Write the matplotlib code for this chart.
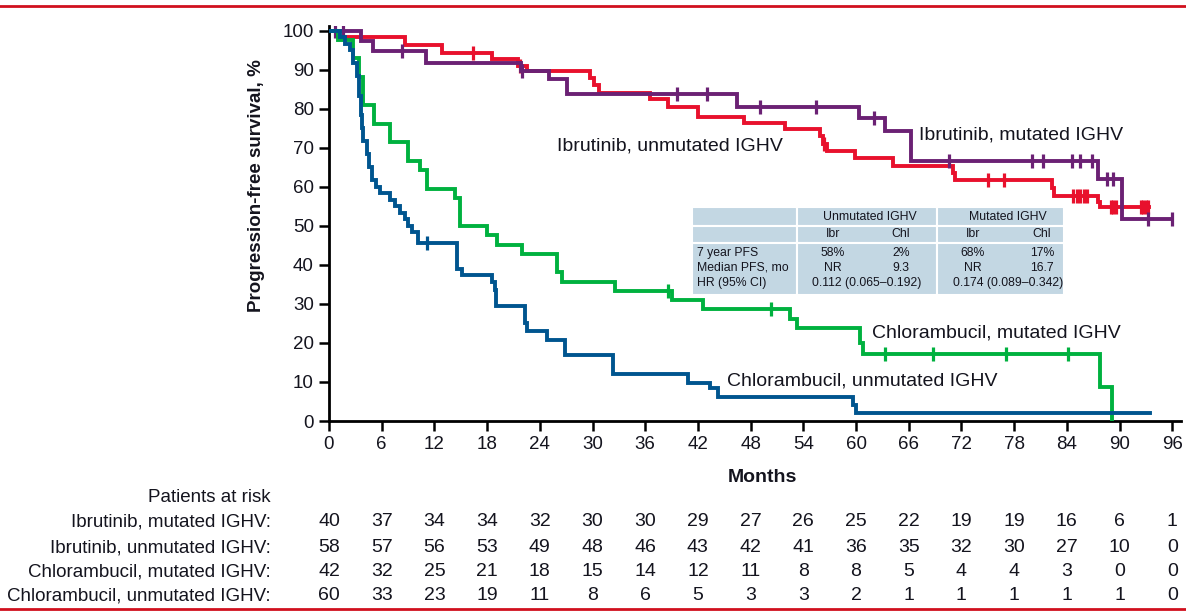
import numpy as np
import matplotlib
matplotlib.use("Agg")
import matplotlib.pyplot as plt
from matplotlib.patches import Rectangle
from matplotlib.lines import Line2D
import matplotlib.transforms as mtransforms

plt.rcParams['font.family'] = ['Liberation Sans', 'DejaVu Sans']
NARROW = ['Liberation Sans Narrow', 'Liberation Sans', 'DejaVu Sans']

# Kaplan-Meier step data (months, % PFS)
ibr_mut_t = [0, 3.7, 5.0, 11.1, 21.9, 25.0, 27.1, 46.5, 60.3, 63.3, 66.3, 87.5, 90.3, 96.0]
ibr_mut_v = [100, 97.4, 94.9, 91.8, 89.7, 87.7, 83.8, 80.5, 77.7, 74.4, 66.7, 62.0, 51.8, 51.8]
ibr_mut_cens = [0.7, 1.6, 8.3, 22.0, 39.6, 43.0, 49.1, 55.4, 62.0, 70.6, 80.0, 81.3,
                84.6, 85.5, 86.9, 88.6, 89.3, 93.2, 96.0]

ibr_unm_t = [0, 1.0, 8.6, 12.9, 18.6, 21.5, 22.5, 29.7, 30.2, 30.7, 36.6, 38.6, 42.0, 47.2,
             51.9, 55.9, 56.2, 56.7, 59.9, 64.2, 71.0, 71.3, 82.3, 82.5, 87.6, 87.8, 93.3]
ibr_unm_v = [100, 98.3, 96.4, 94.4, 92.8, 91.0, 89.7, 88.0, 86.0, 84.1, 82.6, 80.5, 78.0, 76.4,
             74.9, 73.0, 71.0, 69.2, 67.4, 65.4, 63.6, 61.8, 59.7, 57.7, 56.2, 54.9, 54.9]
ibr_unm_cens = [16.4, 21.8, 56.4, 75.0, 76.9, 84.7, 85.2, 85.5, 85.9, 86.3, 89.0, 89.3, 89.6,
                92.4, 92.7, 93.0, 93.2]

chl_mut_t = [0, 1.0, 2.7, 3.4, 3.9, 5.1, 6.9, 9.0, 10.4, 11.2, 14.3, 14.9, 18.0, 19.1, 22.0,
             26.0, 26.5, 32.6, 39.0, 42.6, 52.5, 53.3, 60.5, 60.8, 87.8, 89.2]
chl_mut_v = [100, 97.6, 92.9, 88.1, 81.0, 76.2, 71.4, 66.7, 64.3, 59.5, 57.1, 50.0, 47.6, 45.2, 42.9,
             38.1, 35.7, 33.3, 31.0, 28.6, 26.2, 23.8, 20.0, 17.2, 8.6, 0]
chl_mut_cens = [38.6, 50.3, 63.3, 68.8, 77.1, 84.1]

chl_unm_t = [0, 1.2, 1.8, 2.4, 2.7, 3.2, 3.4, 3.6, 3.8, 3.9, 4.3, 4.6, 4.9, 5.4, 5.8, 6.9, 7.5,
             8.1, 8.6, 9.0, 9.5, 10.1, 14.6, 15.1, 18.6, 18.9, 19.0, 22.3, 22.5, 24.8, 26.9,
             32.3, 40.9, 43.4, 44.3, 59.7, 60.0, 93.5]
chl_unm_v = [100, 98.3, 96.7, 95.0, 91.7, 88.3, 83.3, 78.3, 75.0, 71.7, 68.3, 65.0, 61.7, 60.0, 58.3,
             56.7, 55.0, 53.3, 51.7, 50.0, 48.3, 45.6, 39.0, 37.3, 35.5, 33.5, 29.5, 25.0, 23.0,
             20.8, 17.0, 12.0, 9.7, 8.4, 6.2, 4.0, 2.0, 2.0]
chl_unm_cens = [11.2]

# patients at risk
risk_months = list(range(0, 97, 6))
risk_labels = ['Ibrutinib, mutated IGHV:', 'Ibrutinib, unmutated IGHV:',
               'Chlorambucil, mutated IGHV:', 'Chlorambucil, unmutated IGHV:']
risk_ibr_mut = [40, 37, 34, 34, 32, 30, 30, 29, 27, 26, 25, 22, 19, 19, 16, 6, 1]
risk_ibr_unm = [58, 57, 56, 53, 49, 48, 46, 43, 42, 41, 36, 35, 32, 30, 27, 10, 0]
risk_chl_mut = [42, 32, 25, 21, 18, 15, 14, 12, 11, 8, 8, 5, 4, 4, 3, 0, 0]
risk_chl_unm = [60, 33, 23, 19, 11, 8, 6, 5, 3, 3, 2, 1, 1, 1, 1, 1, 0]

# inset table
tbl_rows = ['7 year PFS', 'Median PFS, mo', 'HR (95% CI)']
tbl_unm = [('58%', '2%'), ('NR', '9.3')]
tbl_mut = [('68%', '17%'), ('NR', '16.7')]
tbl_hr = ['0.112 (0.065\u20130.192)', '0.174 (0.089\u20130.342)']

C_PURPLE = '#6b2174'
C_RED = '#e8112d'
C_GREEN = '#00b13f'
C_BLUE = '#00558f'
TXT = '#14141e'

W, H = 1186, 613
fig = plt.figure(figsize=(W / 100, H / 100), dpi=100)

def fx(px):
    return px / W

def fy(py):
    return 1 - py / H

ax = fig.add_axes([fx(329), fy(421), fx(1181) - fx(329), fy(26) - fy(421)])
ax.set_xlim(0, 97)
ax.set_ylim(0, 101.2)

curves = [
    (ibr_unm_t, ibr_unm_v, ibr_unm_cens, C_RED),
    (ibr_mut_t, ibr_mut_v, ibr_mut_cens, C_PURPLE),
    (chl_mut_t, chl_mut_v, chl_mut_cens, C_GREEN),
    (chl_unm_t, chl_unm_v, chl_unm_cens, C_BLUE),
]
for t, v, cens, col in curves:
    ax.step(t, v, where='post', color=col, lw=2.8, solid_joinstyle='miter', zorder=3)
    cy = [v[np.searchsorted(t, c, side='right') - 1] for c in cens]
    ax.plot(cens, cy, ls='none', marker='|', ms=10, mew=2.3, color=col, zorder=3)

ax.set_xticks(risk_months)
ax.set_yticks(range(0, 101, 10))
for s in ['top', 'right']:
    ax.spines[s].set_visible(False)
for s in ['left', 'bottom']:
    ax.spines[s].set_linewidth(2.0)
ax.tick_params(direction='out', length=7, width=1.8, labelsize=13.5, pad=4,
               labelcolor=TXT)
ax.set_xlabel('Months', family=NARROW, fontweight='bold', fontsize=14, color=TXT)
ax.xaxis.set_label_coords((762 - 329) / 852, -(469 - 421) / 395)
ax.set_ylabel('Progression-free survival, %', family=NARROW, fontweight='bold',
              fontsize=13.5, color=TXT)
ax.yaxis.set_label_coords((265 - 329) / 852, (421 - 186) / 395)

# curve labels
lkw = dict(fontsize=14, va='center', ha='left', color=TXT)
ax.text(26.0, 70.5, 'Ibrutinib, unmutated IGHV', **lkw)
ax.text(67.2, 73.4, 'Ibrutinib, mutated IGHV', **lkw)
ax.text(61.8, 22.6, 'Chlorambucil, mutated IGHV', **lkw)
ax.text(45.3, 10.3, 'Chlorambucil, unmutated IGHV', **lkw)

# inset table drawn in pixel coordinates
tab_bg = '#c3d7e3'
x0, x1, x2, x3 = 692, 797, 937, 1064
y0, y1, y2, y3 = 207, 226, 243, 295
for (a, b, c, d) in [(x0, y0, x1, y1), (x1, y0, x2, y1), (x2, y0, x3, y1),
                     (x0, y1, x1, y2), (x1, y1, x2, y2), (x2, y1, x3, y2),
                     (x0, y2, x1, y3), (x1, y2, x2, y3), (x2, y2, x3, y3)]:
    fig.patches.append(Rectangle((fx(a), fy(d)), fx(c) - fx(a), fy(b) - fy(d),
                                 transform=fig.transFigure, facecolor=tab_bg,
                                 edgecolor='white', lw=1.5, zorder=4))
tkw = dict(family=NARROW, fontsize=8.8, color=TXT, va='center', zorder=5)
fig.text(fx(870), fy(217), 'Unmutated IGHV', ha='center', **tkw)
fig.text(fx(1008), fy(217), 'Mutated IGHV', ha='center', **tkw)
for xc, s in [(833, 'Ibr'), (901, 'Chl'), (973, 'Ibr'), (1042, 'Chl')]:
    fig.text(fx(xc), fy(234), s, ha='center', **tkw)
row_y = [253, 268, 283]
for yy, lab in zip(row_y, tbl_rows):
    fig.text(fx(697), fy(yy), lab, ha='left', **tkw)
for i in range(2):
    fig.text(fx(833), fy(row_y[i]), tbl_unm[i][0], ha='center', **tkw)
    fig.text(fx(901), fy(row_y[i]), tbl_unm[i][1], ha='center', **tkw)
    fig.text(fx(973), fy(row_y[i]), tbl_mut[i][0], ha='center', **tkw)
    fig.text(fx(1042), fy(row_y[i]), tbl_mut[i][1], ha='center', **tkw)
fig.text(fx(867), fy(283), tbl_hr[0], ha='center', **tkw)
fig.text(fx(1008), fy(283), tbl_hr[1], ha='center', **tkw)

# patients at risk table
trans = mtransforms.blended_transform_factory(ax.transData, fig.transFigure)
fig.text(fx(271), fy(498), 'Patients at risk', ha='right', va='center', fontsize=13.5, color=TXT)
risk_rows = [risk_ibr_mut, risk_ibr_unm, risk_chl_mut, risk_chl_unm]
risk_y = [522, 548, 572, 596]
for lab, row, yy in zip(risk_labels, risk_rows, risk_y):
    fig.text(fx(271), fy(yy), lab, ha='right', va='center', fontsize=13.5, color=TXT)
    for m, n in zip(risk_months, row):
        ax.text(m, fy(yy), str(n), transform=trans, ha='center', va='center',
                fontsize=14, color=TXT, clip_on=False)

# red rules at top and bottom
for yy in [6, 609]:
    fig.add_artist(Line2D([0, 1], [fy(yy), fy(yy)], color='#d0101e', lw=2,
                          transform=fig.transFigure))

fig.savefig('out.png', dpi=100)
